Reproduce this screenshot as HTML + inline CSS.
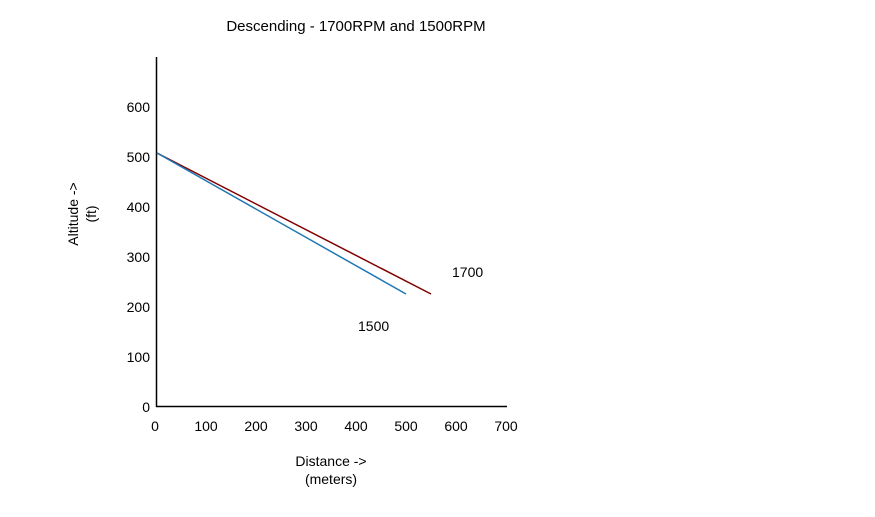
<!DOCTYPE html>
<html><head><meta charset="utf-8"><style>
html,body{margin:0;padding:0;background:#fff;}
svg{display:block;font-family:"Liberation Sans",Arial,sans-serif;}
</style></head><body>
<svg width="875" height="517" viewBox="0 0 875 517" xmlns="http://www.w3.org/2000/svg">
<rect width="875" height="517" fill="#fff"/>
<text x="356" y="31" font-size="15" text-anchor="middle" fill="#000">Descending - 1700RPM and 1500RPM</text>
<line x1="156.5" y1="57" x2="156.5" y2="407" stroke="#000" stroke-width="1.5"/>
<line x1="156" y1="406.5" x2="507" y2="406.5" stroke="#000" stroke-width="1.5"/>
<g font-size="14" fill="#000" text-anchor="end">
<text x="150" y="412">0</text>
<text x="150" y="362">100</text>
<text x="150" y="312">200</text>
<text x="150" y="262">300</text>
<text x="150" y="212">400</text>
<text x="150" y="162">500</text>
<text x="150" y="112">600</text>
</g>
<g font-size="14" fill="#000" text-anchor="middle">
<text x="155" y="431">0</text>
<text x="206" y="431">100</text>
<text x="256" y="431">200</text>
<text x="306" y="431">300</text>
<text x="356" y="431">400</text>
<text x="406" y="431">500</text>
<text x="456" y="431">600</text>
<text x="506" y="431">700</text>
<text x="331" y="466">Distance -&gt;</text>
<text x="331" y="484">(meters)</text>
</g>
<g transform="translate(78,214) rotate(-90)" font-size="14" fill="#000" text-anchor="middle">
<text x="0" y="0">Altitude -&gt;</text>
<text x="0" y="18">(ft)</text>
</g>
<line x1="157" y1="153" x2="431" y2="294" stroke="#800000" stroke-width="1.5"/>
<line x1="157" y1="153" x2="406" y2="294" stroke="#1f77b4" stroke-width="1.5"/>
<text x="452" y="277" font-size="14" fill="#000">1700</text>
<text x="358" y="331" font-size="14" fill="#000">1500</text>
</svg>
</body></html>
